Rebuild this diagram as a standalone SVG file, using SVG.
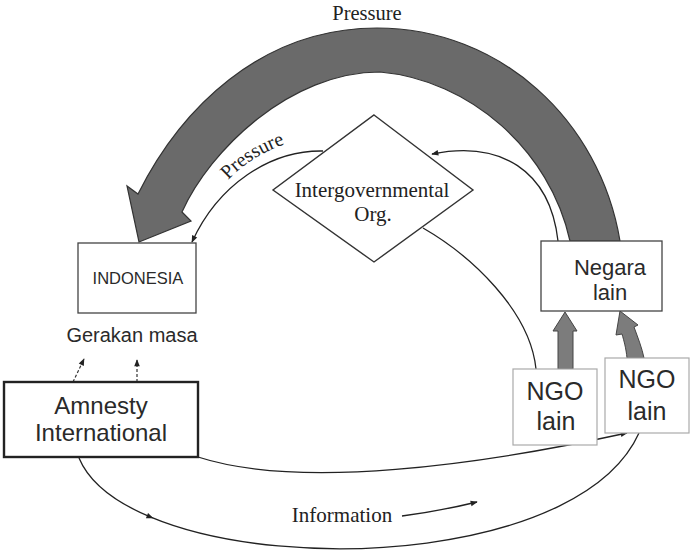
<svg xmlns="http://www.w3.org/2000/svg" width="691" height="552" viewBox="0 0 691 552">
<style>
.serif{font-family:"Liberation Serif","Times New Roman",serif;fill:#222;}
.sans{font-family:"Liberation Sans",Arial,sans-serif;fill:#2a2a2a;}
.thin{fill:none;stroke:#222;stroke-width:1.3;}
.dash{fill:none;stroke:#333;stroke-width:1.2;stroke-dasharray:3 2;}
.band{fill:#6a6a6a;stroke:#333;stroke-width:1.2;}
.garrow{fill:#7c7c7c;stroke:#444;stroke-width:1;}
.box{fill:#fff;stroke:#444;stroke-width:1.3;}
.lbox{fill:#fff;stroke:#aaa;stroke-width:1.2;}
</style>
<defs>
<marker id="ah" viewBox="0 0 10 10" refX="9" refY="5" markerWidth="9" markerHeight="7" markerUnits="userSpaceOnUse" orient="auto">
<path d="M0,1 L10,5 L0,9 z" fill="#222"/>
</marker>
<marker id="ahm" viewBox="0 0 10 10" refX="5" refY="5" markerWidth="9" markerHeight="7" markerUnits="userSpaceOnUse" orient="auto">
<path d="M0,1 L10,5 L0,9 z" fill="#222"/>
</marker>
<path id="ptext" d="M228,180 Q 256,150 306,138"/>
</defs>

<g id="connectors">
<path class="band" d="M182,212 C 210,150 290,72 380,72 C 470,80 550,150 570,241 L 620,241 C 600,120 500,28 377,28 C 260,28 180,110 138,194 L 127,186 L 139,242 L 191,221 Z"/>
<path class="thin" d="M323,151 C 270,150 218,185 192,242" marker-end="url(#ah)"/>
<path class="thin" d="M558,241 C 550,170 500,140 432,154" marker-end="url(#ah)"/>
<path class="thin" d="M423,228 C 470,255 530,310 536,369"/>
<path class="thin" d="M198,457 C 300,490 480,465 627,433" marker-end="url(#ah)"/>
<path class="thin" d="M79,458 C 89.2,482.4 114.96,502.16 150.2,516.9 C 291.16,576.04 583.8,555.4 639,433" marker-mid="url(#ahm)"/>
<path class="thin" d="M402,516 Q 440,511 477,502" marker-end="url(#ah)"/>
<path class="dash" d="M73,382 L84,359" marker-end="url(#ah)"/>
<path class="dash" d="M137,382 L137,360" marker-end="url(#ah)"/>
<path class="garrow" d="M558,369 L558,331 L553,331 L565,312 L577,331 L573,331 L573,369 Z"/>
<path class="garrow" d="M627,358 C 626,348 624,341 622,334 L 616,335 L 620,311 L 638,325 L 634,327 C 638,338 642,348 644,358 Z"/>
</g>

<text class="serif" x="367" y="20" font-size="20.5" text-anchor="middle">Pressure</text>
<text class="serif" font-size="20"><textPath href="#ptext" startOffset="0">Pressure</textPath></text>

<g id="igo">
<polygon points="374,115 473,190 374,262 273,190" fill="#fff" stroke="#333" stroke-width="1.4"/>
<text class="serif" x="372" y="197" font-size="21" text-anchor="middle">Intergovernmental</text>
<text class="serif" x="373" y="221" font-size="21" text-anchor="middle">Org.</text>
</g>

<g id="indonesia">
<rect class="box" x="78" y="243" width="118" height="70"/>
<text class="sans" x="138" y="284" font-size="16.5" text-anchor="middle">INDONESIA</text>
</g>

<g id="gerakan">
<text class="sans" x="132" y="342" font-size="20" text-anchor="middle">Gerakan masa</text>
</g>

<g id="amnesty">
<rect x="4" y="382" width="194" height="75" fill="#fff" stroke="#222" stroke-width="2.4"/>
<text class="sans" x="101" y="414" font-size="24" text-anchor="middle">Amnesty</text>
<text class="sans" x="101" y="441" font-size="24" text-anchor="middle">International</text>
</g>

<g id="negara">
<rect class="box" x="541" y="241" width="121" height="70"/>
<text class="sans" x="610" y="275" font-size="22" text-anchor="middle">Negara</text>
<text class="sans" x="610" y="300" font-size="22" text-anchor="middle">lain</text>
</g>

<g id="ngo1">
<rect class="lbox" x="513" y="369" width="84" height="76"/>
<text class="sans" x="555" y="400" font-size="25" text-anchor="middle">NGO</text>
<text class="sans" x="556" y="430" font-size="25" text-anchor="middle">lain</text>
</g>

<g id="ngo2">
<rect class="lbox" x="605" y="358" width="84" height="75"/>
<text class="sans" x="647" y="388" font-size="25" text-anchor="middle">NGO</text>
<text class="sans" x="647" y="420" font-size="25" text-anchor="middle">lain</text>
</g>

<g id="information">
<text class="serif" x="342" y="522" font-size="21" text-anchor="middle">Information</text>
</g>
</svg>
